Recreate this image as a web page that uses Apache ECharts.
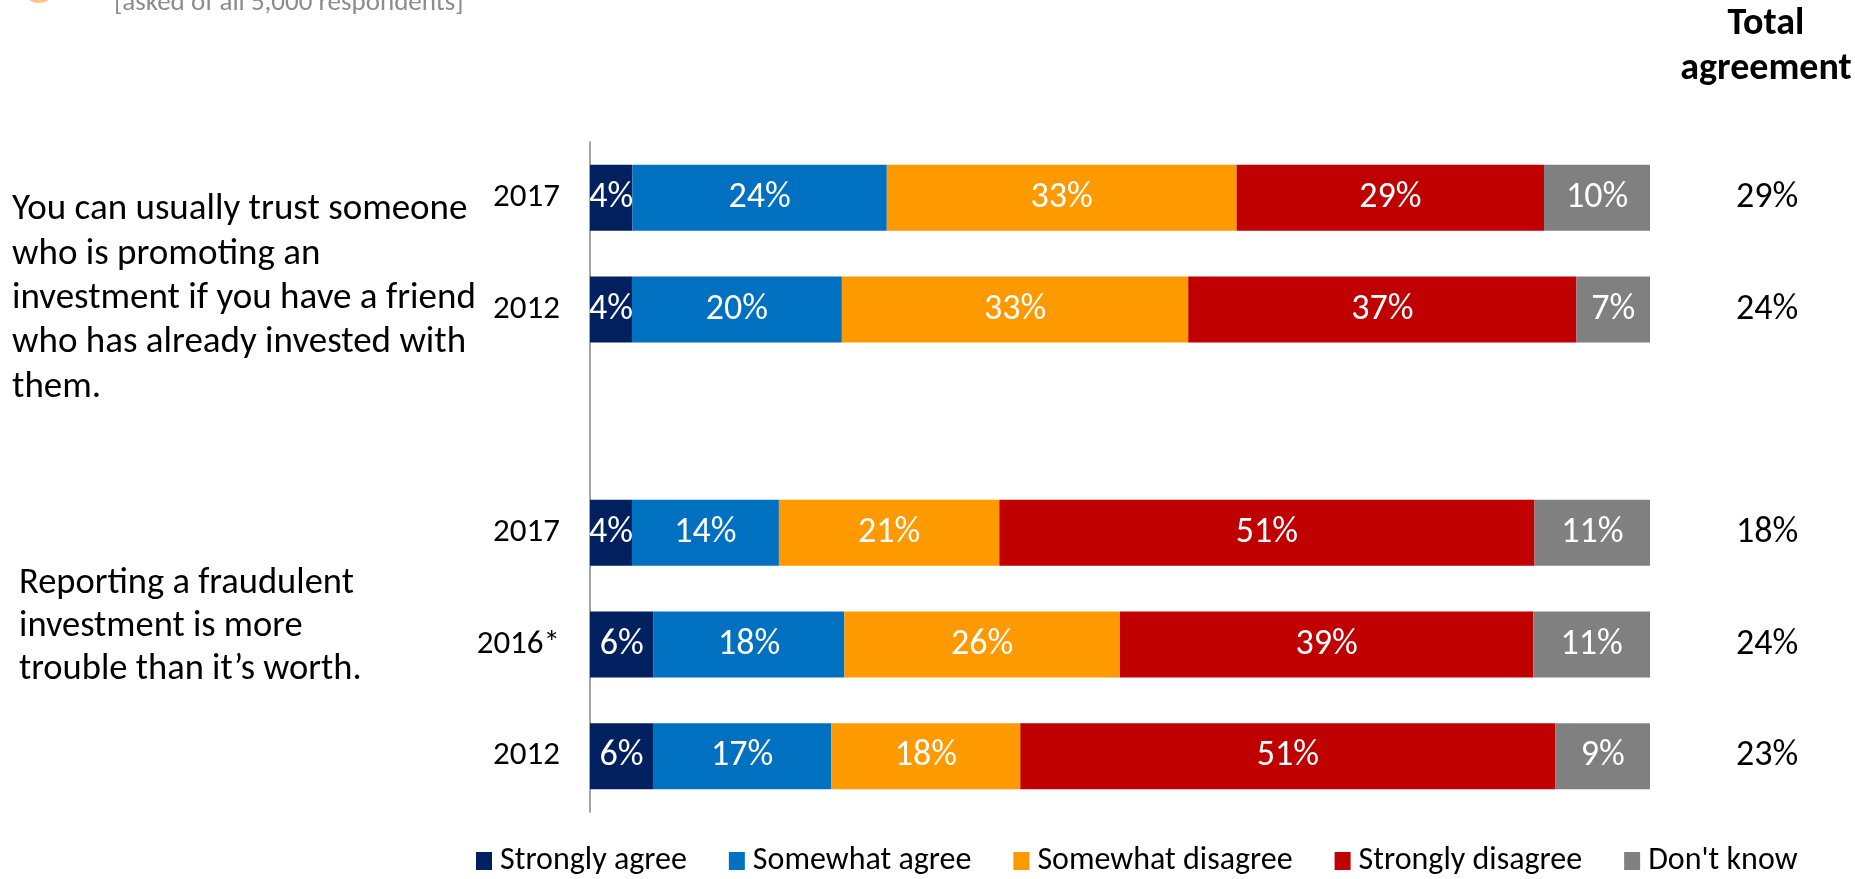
<!DOCTYPE html>
<html>
<head>
<meta charset="utf-8">
<script src="https://cdn.jsdelivr.net/npm/echarts@6/dist/echarts.min.js"></script>
<style>
  html, body { margin: 0; padding: 0; background: #fff; }
  #chart { width: 1855px; height: 879px; }
</style>
</head>
<body>
<div id="chart"></div>
<script>
// years per bar (blank slot separates the two questions)
var categories = ['2017', '2012', '', '2017', '2016*', '2012'];
var seriesNames = ['Strongly agree', 'Somewhat agree', 'Somewhat disagree', 'Strongly disagree', "Don't know"];
var stronglyAgree = [4, 4, null, 4, 6, 6];
var somewhatAgree = [24, 20, null, 14, 18, 17];
var somewhatDisagree = [33, 33, null, 21, 26, 18];
var stronglyDisagree = [29, 37, null, 51, 39, 51];
var dontKnow = [10, 7, null, 11, 11, 9];
var totalAgreement = ['29%', '24%', '', '18%', '24%', '23%'];
var colors = ['#002060', '#0070C0', '#FF9900', '#C00000', '#808080'];

var FONT = 'Carlito, Lato, sans-serif';
var rows = [stronglyAgree, somewhatAgree, somewhatDisagree, stronglyDisagree, dontKnow];

// 100% stacked: each bar is scaled to its row total, labels keep the raw number
var rowSums = categories.map(function (c, i) {
  var s = 0;
  rows.forEach(function (r) { s += r[i] || 0; });
  return s;
});

var series = rows.map(function (r, k) {
  return {
    name: seriesNames[k],
    type: 'bar',
    stack: 'all',
    barWidth: 66,
    itemStyle: { color: colors[k] },
    label: {
      show: true,
      color: '#fff',
      fontFamily: FONT,
      fontSize: 36,
      formatter: function (p) { return p.data.raw + '%'; }
    },
    data: r.map(function (v, i) {
      if (v == null) return null;
      return { value: v / rowSums[i] * 100, raw: v };
    })
  };
});

var chart = echarts.init(document.getElementById('chart'));
chart.setOption({
  animation: false,
  grid: { left: 590, right: 205, top: 142, bottom: 67, containLabel: false },
  xAxis: { type: 'value', min: 0, max: 100, show: false },
  yAxis: [{
    type: 'category',
    inverse: true,
    data: categories,
    axisLine: { show: true, lineStyle: { color: '#868686', width: 1.5 } },
    axisTick: { show: false },
    axisLabel: { color: '#000', fontFamily: FONT, fontSize: 33, margin: 30 }
  }, {
    type: 'category',
    inverse: true,
    position: 'right',
    data: totalAgreement,
    axisLine: { show: false },
    axisTick: { show: false },
    axisLabel: { color: '#000', fontFamily: FONT, fontSize: 36, margin: 117, align: 'center' }
  }],
  legend: {
    data: seriesNames,
    left: 471,
    top: 840,
    itemWidth: 16,
    itemHeight: 18,
    itemGap: 42,
    icon: 'rect',
    textStyle: { color: '#000', fontFamily: FONT, fontSize: 32, padding: [0, 0, 0, 3] }
  },
  graphic: [
    { type: 'circle', shape: { cx: 39, cy: -14, r: 17 }, style: { fill: '#FAC58C' } },
    {
      type: 'text', x: 114, y: -10,
      style: { text: '[asked of all 5,000 respondents]', fill: '#8C8C8C', font: '27px ' + FONT, verticalAlign: 'top' }
    },
    {
      type: 'text', x: 1766, y: 2,
      style: {
        text: 'Total\nagreement', fill: '#000', font: 'bold 38px ' + FONT,
        align: 'center', verticalAlign: 'top', lineHeight: 45
      }
    },
    {
      type: 'text', x: 12, y: 188,
      style: {
        text: 'You can usually trust someone\nwho is promoting an\ninvestment if you have a friend\nwho has already invested with\nthem.',
        fill: '#000', font: '37px ' + FONT, lineHeight: 44.3, verticalAlign: 'top'
      }
    },
    {
      type: 'text', x: 19, y: 562,
      style: {
        text: 'Reporting a fraudulent\ninvestment is more\ntrouble than it\u2019s worth.',
        fill: '#000', font: '36.5px ' + FONT, lineHeight: 43, verticalAlign: 'top'
      }
    }
  ],
  series: series
});
</script>
</body>
</html>
